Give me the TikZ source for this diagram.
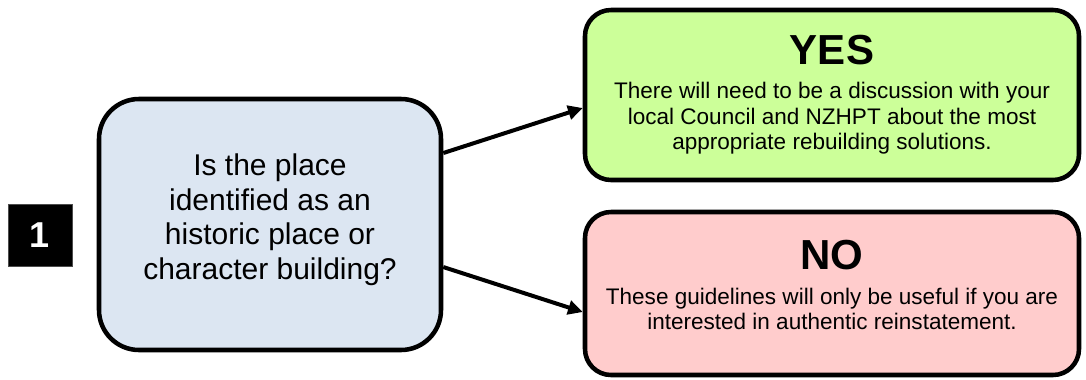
\documentclass[tikz,border=0pt]{standalone}
\usepackage{fontspec}
\setmainfont{Liberation Sans}
\usetikzlibrary{arrows.meta, positioning, shadows}

\definecolor{questionblue}{HTML}{DCE6F2}
\definecolor{yesgreen}{HTML}{CCFF99}
\definecolor{nopink}{HTML}{FFCCCC}

\begin{document}
\begin{tikzpicture}[x=0.75pt, y=-0.75pt]
  \useasboundingbox (0,0) rectangle (1086,379);

  % Define styles for the boxes and arrows
  \tikzstyle{box}=[draw=black, line width=3.4pt, align=center, inner sep=0pt, drop shadow={opacity=0.25, shadow xshift=0.75pt, shadow yshift=-0.75pt}]
  \tikzstyle{answer}=[box, rounded corners=19.5pt, minimum width=370.5pt, font=\fontsize{16.9}{19.1}\selectfont]
  \tikzstyle{link}=[line width=3pt, -{Triangle[length=11pt, width=10.5pt]}]

  % Step number
  \node[fill=black, draw=black!70, thin, text=white, minimum width=48pt, minimum height=46.5pt, font=\fontsize{27}{27}\selectfont\bfseries] (num) at (40,235) {1};

  % Question
  \node[box, fill=questionblue, rounded corners=30pt, minimum width=256.5pt, minimum height=188.25pt, font=\fontsize{22.5}{25.9}\selectfont] (question) at (270,224.5)
    {Is the place\\identified as an\\historic place or\\character building?\rule[-11.5pt]{0pt}{1pt}};

  % Answers
  \node[answer, fill=yesgreen, minimum height=127.5pt] (yes) at (832,95)
    {{\fontsize{31.5}{31.5}\selectfont\bfseries YES}\\[6.4pt]There will need to be a discussion with your\\local Council and NZHPT about the most\\appropriate rebuilding solutions.};
  \node[answer, fill=nopink, minimum height=122.25pt] (no) at (832,293.5)
    {{\fontsize{31.5}{31.5}\selectfont\bfseries NO}\\[7.1pt]These guidelines will only be useful if you are\\interested in authentic reinstatement.\rule[-12.75pt]{0pt}{1pt}};

  % Arrows
  \draw[link] ([yshift=53.6pt]question.east) -- ([yshift=-9.75pt]yes.west);
  \draw[link] ([yshift=-31.9pt]question.east) -- ([yshift=-13.9pt]no.west);
\end{tikzpicture}
\end{document}
